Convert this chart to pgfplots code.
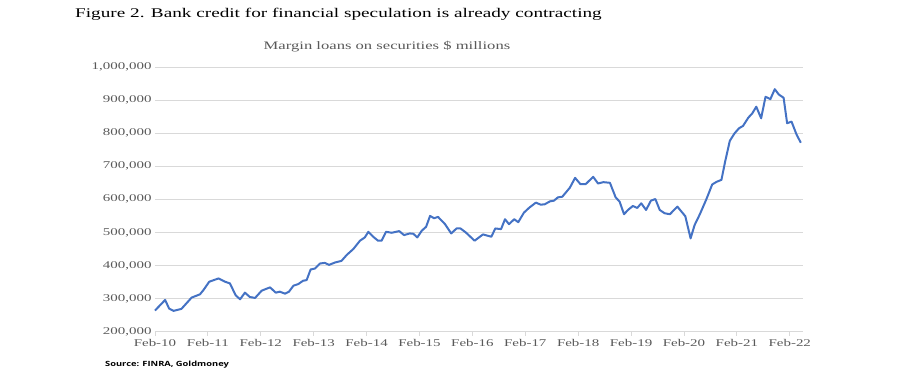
\documentclass[border=0pt]{standalone}
\usepackage{pgfplots}
\pgfplotsset{compat=1.18}
\usepackage{fontspec}
\setmainfont{Liberation Serif}[FakeStretch=1.45]
\newfontfamily\srcfont{Open Sans}[FakeStretch=1.3]
\definecolor{linec}{HTML}{4472C4}
\definecolor{txtgray}{HTML}{595959}
\definecolor{gridc}{HTML}{D9D9D9}
\begin{document}
\begin{tikzpicture}
\useasboundingbox (-155bp,-44.3bp) rectangle (747bp,331.7bp);
\begin{axis}[
  at={(0,0)}, anchor=south west,
  scale only axis, width=648bp, height=264.7bp,
  xmin=0, xmax=147, ymin=200000, ymax=1000000,
  axis y line*=left, axis x line*=bottom,
  y axis line style={draw=none},
  x axis line style={draw=gridc, line width=0.8bp},
  ytick={200000,300000,...,1000000},
  yticklabel style={font=\fontsize{10.35}{12}\selectfont, text=txtgray},
  yticklabel={\pgfmathprintnumber[fixed, 1000 sep={,}]{\tick}},
  scaled y ticks=false,
  /pgf/number format/assume math mode=true,
  xtick={0,12,...,144},
  xticklabels={Feb-10,Feb-11,Feb-12,Feb-13,Feb-14,Feb-15,Feb-16,Feb-17,Feb-18,Feb-19,Feb-20,Feb-21,Feb-22},
  xticklabel style={font=\fontsize{10.35}{12}\selectfont, text=txtgray},
  xtick style={draw=gridc, line width=0.8bp},
  xtick align=outside, major tick length=4bp,
  ytick style={draw=none},
  ymajorgrids, grid style={draw=gridc, line width=0.8bp},
  clip=false,
]
\addplot[linec, line width=2bp, line join=round] coordinates {
(0,264000)(2.3,296000)(3.2,270000)(4.2,263000)(6,269000)(8.3,303000)(10.2,313000)(11,326000)
(12.3,351000)(14.4,361000)(15.9,351000)(17,346000)(18.3,310000)(19.3,298000)(20.4,318000)
(21.5,305000)(22.7,302000)(24.2,324000)(26.1,334000)(27.4,318000)(28.3,321000)(29.5,315000)
(30.4,321000)(31.4,339000)(32.5,344000)(33.6,354000)(34.4,356000)(35.3,388000)(36.3,391000)
(37.4,406000)(38.5,408000)(39.5,402000)(40.8,409000)(42.3,414000)(43.5,432000)(45,450000)
(46.5,475000)(47.6,485000)(48.4,502000)(49.5,487000)(50.6,475000)(51.4,475000)(52.4,502000)
(53.7,499000)(55.4,504000)(56.5,492000)(57.8,497000)(58.6,496000)(59.5,485000)(60.5,505000)
(61.5,517000)(62.4,550000)(63.3,543000)(64.2,547000)(65.8,525000)(67.2,497000)(68.4,512000)
(69.3,512000)(70.5,500000)(72.5,475000)(74.4,494000)(76.3,487000)(77.2,512000)(78.5,510000)
(79.4,540000)(80.3,525000)(81.5,540000)(82.4,531000)(83.7,560000)(85,576000)(86.4,590000)
(87.5,584000)(88.4,585000)(89.6,594000)(90.5,596000)(91.4,606000)(92.4,608000)(94.1,635000)
(95.3,665000)(96.5,646000)(97.7,646000)(99.4,668000)(100.5,648000)(101.7,652000)(103.2,650000)
(104.5,606000)(105.4,593000)(106.4,555000)(107.3,568000)(108.4,580000)(109.4,574000)
(110.3,588000)(111.4,568000)(112.5,596000)(113.5,601000)(114.5,568000)(115.6,558000)
(116.8,555000)(118.5,578000)(120.3,549000)(121.5,482000)(122.4,522000)(123.6,555000)
(125.1,601000)(126.4,645000)(127.4,653000)(128.5,659000)(129.3,712000)(130.4,777000)
(131.5,800000)(132.5,815000)(133.4,822000)(134.6,847000)(135.5,860000)(136.4,880000)
(137.5,845000)(138.5,910000)(139.6,903000)(140.6,933000)(141.5,917000)(142.6,907000)
(143.4,830000)(144.4,835000)(145.5,797000)(146.5,771000)
};
\end{axis}
\node[anchor=base west, inner sep=0pt, font=\fontsize{13.3}{16}\selectfont] at (-80bp,314.2bp)
  {Figure 2. Bank credit for financial speculation is already contracting};
\node[anchor=base, inner sep=0pt, text=txtgray, font=\fontsize{11.5}{14}\selectfont] at (232bp,282.4bp)
  {Margin loans on securities \$ millions};
\node[anchor=base west, inner sep=0pt, font=\srcfont\bfseries\fontsize{7.2}{9}\selectfont] at (-50bp,-35bp)
  {Source: FINRA, Goldmoney};
\end{tikzpicture}
\end{document}
